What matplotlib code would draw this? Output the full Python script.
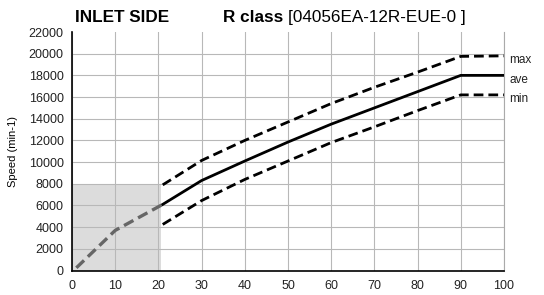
import numpy as np
import matplotlib
matplotlib.use("Agg")
import matplotlib.pyplot as plt
from matplotlib.patches import Rectangle

plt.rcParams['font.family'] = ['Liberation Sans', 'DejaVu Sans']

# flow (x) points of the curves
flow = [21, 30, 40, 50, 60, 70, 80, 90, 100]
speed_max = [7900, 10150, 12000, 13700, 15400, 16900, 18300, 19750, 19800]
speed_ave = [6100, 8300, 10100, 11850, 13500, 15000, 16500, 18000, 18000]
speed_min = [4250, 6450, 8400, 10100, 11800, 13250, 14750, 16200, 16200]

# low flow part, shown grey
low_flow = [1, 10, 21]
low_speed = [250, 3700, 6100]
shade_x = 20.7
shade_y = 8000

x_ticks = list(range(0, 101, 10))
y_ticks = list(range(0, 22001, 2000))

fig = plt.figure(figsize=(5.44, 2.95), dpi=100)
ax = fig.add_axes([0.1324, 0.083, 0.794, 0.8085])

ax.add_patch(Rectangle((0, 0), shade_x, shade_y, facecolor="#dcdcdc",
                       edgecolor="none", zorder=1))

ax.plot(low_flow, low_speed, color="#666666", lw=2.4, ls=(0, (3.2, 1.6)),
        zorder=3, dash_capstyle="butt")
ax.plot(flow, speed_ave, color="black", lw=2.0, zorder=4)
ax.plot(flow, speed_max, color="black", lw=2.0, ls=(0, (3.5, 1.8)), zorder=4)
ax.plot(flow, speed_min, color="black", lw=2.0, ls=(0, (3.5, 1.8)), zorder=4)

ax.set_xlim(0, 100)
ax.set_ylim(0, 22000)
ax.set_xticks(x_ticks)
ax.set_yticks(y_ticks)
ax.tick_params(length=0, labelsize=9, colors="#222222")
ax.tick_params(axis="x", pad=7)
ax.tick_params(axis="y", pad=6)
ax.grid(True, color="#b8b8b8", lw=0.8)
ax.get_ygridlines()[-1].set_visible(False)

ax.spines["top"].set_visible(False)
ax.spines["right"].set_color("#aaaaaa")
ax.spines["right"].set_linewidth(0.8)
ax.spines["left"].set_linewidth(1.2)
ax.spines["bottom"].set_linewidth(1.2)

ax.set_ylabel("Speed (min-1)", fontsize=8, labelpad=8)

for label, y in [("max", speed_max[-1]), ("ave", speed_ave[-1]), ("min", speed_min[-1])]:
    ax.annotate(label, xy=(100, y), xytext=(4, -3), textcoords="offset points",
                fontsize=8.5, va="center", ha="left", color="#222222",
                annotation_clip=False)

fig.text(0.138, 0.925, "INLET SIDE", fontsize=12.3, fontweight="bold")
t = fig.text(0.41, 0.925, "R class ", fontsize=12.3, fontweight="bold")
fig.canvas.draw()
bb = t.get_window_extent()
fig.text(bb.x1 / fig.bbox.width, 0.925, "[04056EA-12R-EUE-0 ]", fontsize=12.3)

fig.savefig("out.png", dpi=100)
